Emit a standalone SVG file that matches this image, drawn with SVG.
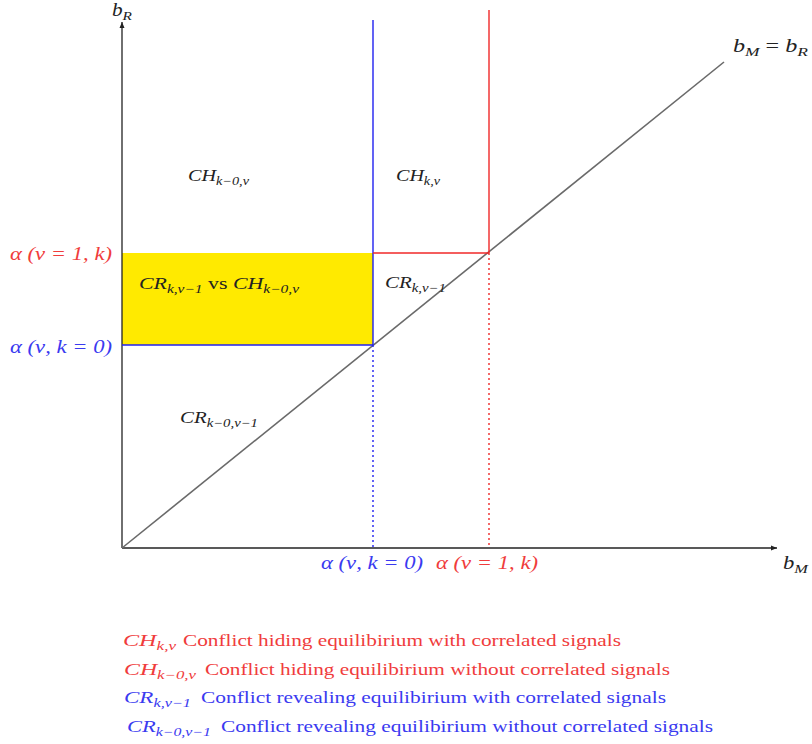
<svg xmlns="http://www.w3.org/2000/svg" width="812" height="744" viewBox="0 0 812 744">
<style>
text{font-family:"Liberation Serif","DejaVu Serif",serif;}
.m{font-style:italic;font-size:18px;}
.lab{font-style:italic;font-size:17px;fill:#222;}
.red{fill:#f03c3c;}
.blue{fill:#3a3af0;}
.lg{font-size:17px;}
.it{font-style:italic;}
.ax{stroke:#222;stroke-width:1.3;fill:none;}
.diag{stroke:#6a6a6a;stroke-width:1.6;}
.bl{stroke:#2020f0;stroke-width:1.4;}
.rd{stroke:#f02828;stroke-width:1.4;}
.dot{stroke-dasharray:2,3;}
</style>
<defs>
<marker id="ah" markerWidth="8" markerHeight="8" refX="7" refY="4" orient="auto" markerUnits="userSpaceOnUse">
<path d="M1,1.5 L7,4 L1,6.5 Z" fill="#222"/>
</marker>
</defs>
<rect id="region-yellow" x="122" y="253" width="251" height="92" fill="#ffea00"/>
<g id="connectors">
<line class="ax" x1="122" y1="548" x2="122" y2="22" marker-end="url(#ah)"/>
<line class="ax" x1="122" y1="548" x2="777" y2="548" marker-end="url(#ah)"/>
<line class="diag" x1="122" y1="548" x2="724" y2="62"/>
<line class="bl" x1="373" y1="20" x2="373" y2="345"/>
<line class="bl dot" x1="373" y1="345" x2="373" y2="548"/>
<line class="bl" x1="122" y1="345" x2="373" y2="345"/>
<line class="rd" x1="489" y1="10" x2="489" y2="253"/>
<line class="rd dot" x1="489" y1="253" x2="489" y2="548"/>
<line class="rd" x1="373" y1="253" x2="489" y2="253"/>
</g>
<g id="axis-labels">
<text class="m" x="112" y="16" fill="#222" textLength="20" lengthAdjust="spacingAndGlyphs">b<tspan font-size="13" dy="4">R</tspan></text>
<text class="m" x="783" y="569" fill="#222" textLength="25" lengthAdjust="spacingAndGlyphs">b<tspan font-size="13" dy="4">M</tspan></text>
<text class="m" x="733" y="52" fill="#222" textLength="75" lengthAdjust="spacingAndGlyphs">b<tspan font-size="13" dy="4">M</tspan><tspan dy="-4" font-style="normal"> = </tspan>b<tspan font-size="13" dy="4">R</tspan></text>
<text class="m red" x="10" y="260" textLength="102" lengthAdjust="spacingAndGlyphs">α (ν = 1, k)</text>
<text class="m blue" x="10" y="353" textLength="102" lengthAdjust="spacingAndGlyphs">α (ν, k = 0)</text>
<text class="m blue" x="321" y="569" textLength="102" lengthAdjust="spacingAndGlyphs">α (ν, k = 0)</text>
<text class="m red" x="436" y="569" textLength="102" lengthAdjust="spacingAndGlyphs">α (ν = 1, k)</text>
</g>
<g id="region-labels">
<text class="lab" x="188" y="181" textLength="61" lengthAdjust="spacingAndGlyphs">CH<tspan font-size="12" dy="4">k−0,ν</tspan></text>
<text class="lab" x="396" y="181" textLength="44" lengthAdjust="spacingAndGlyphs">CH<tspan font-size="12" dy="4">k,ν</tspan></text>
<text class="lab" x="139" y="289" textLength="160" lengthAdjust="spacingAndGlyphs">CR<tspan font-size="12" dy="4">k,ν−1</tspan><tspan dy="-4" font-style="normal">  vs  </tspan>CH<tspan font-size="12" dy="4">k−0,ν</tspan></text>
<text class="lab" x="385" y="288" textLength="61" lengthAdjust="spacingAndGlyphs">CR<tspan font-size="12" dy="4">k,ν−1</tspan></text>
<text class="lab" x="180" y="423" textLength="78" lengthAdjust="spacingAndGlyphs">CR<tspan font-size="12" dy="4">k−0,ν−1</tspan></text>
</g>
<g id="legend">
<text class="lg it red" x="123" y="646" textLength="53" lengthAdjust="spacingAndGlyphs">CH<tspan font-size="12" dy="4">k,ν</tspan></text>
<text class="lg red" x="183" y="646" textLength="438" lengthAdjust="spacingAndGlyphs">Conflict hiding equilibirium with correlated signals</text>
<text class="lg it red" x="124" y="675" textLength="72" lengthAdjust="spacingAndGlyphs">CH<tspan font-size="12" dy="4">k−0,ν</tspan></text>
<text class="lg red" x="205" y="675" textLength="465" lengthAdjust="spacingAndGlyphs">Conflict hiding equilibirium without correlated signals</text>
<text class="lg it blue" x="124" y="703" textLength="67" lengthAdjust="spacingAndGlyphs">CR<tspan font-size="12" dy="4">k,ν−1</tspan></text>
<text class="lg blue" x="201" y="703" textLength="465" lengthAdjust="spacingAndGlyphs">Conflict revealing equilibirium with correlated signals</text>
<text class="lg it blue" x="127" y="732" textLength="84" lengthAdjust="spacingAndGlyphs">CR<tspan font-size="12" dy="4">k−0,ν−1</tspan></text>
<text class="lg blue" x="221" y="732" textLength="492" lengthAdjust="spacingAndGlyphs">Conflict revealing equilibirium without correlated signals</text>
</g>
</svg>
